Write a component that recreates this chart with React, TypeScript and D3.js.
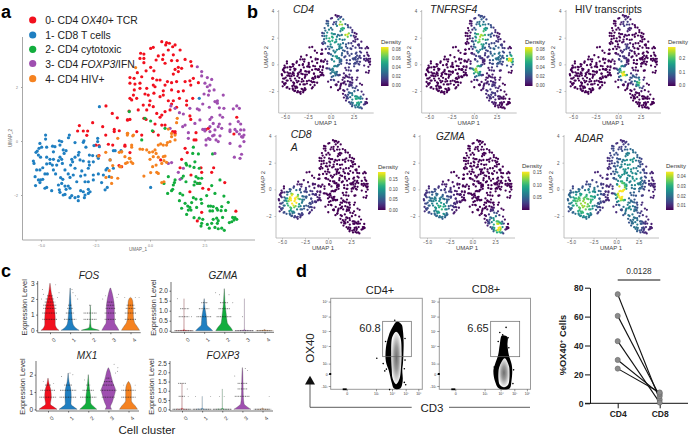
import React, { useEffect, useRef } from "react";
import * as d3 from "d3";

// UMAP coordinates, one list per cluster
const cluster0 = [[.54,3.68],[.76,3.64],[.89,3.62],[.72,3.56],[1.15,3.56],[1.04,3.49],[.15,3.47],[.03,3.43],[.84,3.37],[1.38,3.37],[-.43,3.25],[-.28,3.22],[-.46,3.06],[-.28,3.06],[-.28,2.9],[.38,3.15],[.61,3.19],[1.07,3.19],[.28,3.0],[.58,3.02],[.69,2.88],[.99,2.98],[1.61,3.02],[1.25,2.98],[1.87,2.94],[1.91,2.78],[.03,2.73],[-.18,2.6],[.18,2.6],[1.3,2.73],[1.45,2.69],[1.15,2.65],[1.3,2.57],[1.07,2.48],[-.58,2.53],[-.73,2.32],[-.92,2.35],[-.38,2.38],[-.46,2.14],[-.69,2.11],[-.92,2.14],[-.46,1.95],[-.72,1.89],[.12,2.32],[.31,2.26],[.46,2.26],[.8,2.2],[.99,2.16],[1.22,2.2],[1.61,2.2],[1.83,2.23],[1.99,2.32],[2.22,2.16],[1.87,2.07],[.15,2.07],[-.15,1.95],[.23,2.01],[.69,2.07],[.61,1.86],[.99,1.89],[1.3,1.83],[1.53,1.86],[-.23,1.74],[-.08,1.7],[.18,1.77],[.46,1.64],[.61,1.7],[-.76,1.7],[-.92,1.58],[-.61,1.58],[-.84,1.52],[0,1.49],[.84,1.49],[1.07,1.49],[1.35,1.58],[1.68,1.49],[1.96,1.58],[-.31,1.33],[-.03,1.33],[.15,1.27],[.99,1.37],[1.22,1.25],[1.68,1.33],[-.54,1.15],[-.15,1.15],[.31,1.02],[.69,1.09],[.92,1.15],[.54,.96],[.46,.88],[-.92,.8],[-1.04,.78],[-.28,.84],[-.18,.8],[.23,.63],[.54,.59],[.69,.59],[1.83,.93],[1.87,.8],[3.98,.88],[2.57,.43],[2.68,.47],[.15,.35],[1.15,.28],[1.04,.35],[-.61,.35],[-.38,.22],[.38,.22],[-1.15,-.15],[-.92,-.43],[2.11,.31],[2.02,.04],[2.11,.04],[1.61,-.27],[1.71,-.43],[1.45,-.68],[.49,-.7],[1.38,-.99],[2.34,-.99],[2.37,-1.16],[2.83,-1.16],[2.92,-.99],[1.88,-1.26],[2.26,-1.57],[2.42,-1.75],[2.69,-1.79],[3.43,-1.54],[1.83,-1.88],[2.37,-2.64],[3.94,-2.6],[2.17,-2.96],[3.85,.26],[1.15,.35],[-2.02,1.3],[-1.73,1.02],[-1.5,.86],[-.96,1.11],[-1.02,.78],[-2.63,.68],[-3.24,.57],[-3.32,.37],[-3.06,.37],[-2.86,.37],[-2.9,.21],[-2.17,.53],[-1.64,.43],[-1.64,.35],[-1.41,.38],[-2.03,.22],[-2.48,-.15],[-2.34,-.17],[-2.34,-.54],[-1.91,-.12],[-1.71,-.15],[-1.15,-.19],[-1.42,-.91],[-1.3,-.95]];
const cluster1 = [[-2.32,1.27],[-4.79,.22],[-4.79,.07],[-3.7,.22],[-3.74,.12],[-4.16,.01],[-4.05,-.02],[-3.03,.01],[-3.06,-.05],[-5.05,-.09],[-3.44,-.06],[-2.4,.1],[-2.4,-.02],[-5.09,-.27],[-4.97,-.23],[-4.74,-.23],[-4.47,-.19],[-4.36,-.21],[-4.13,-.15],[-3.98,-.33],[-3.85,-.36],[-3.94,-.46],[-2.94,-.23],[-2.57,-.17],[-2.32,-.21],[-5.17,-.37],[-5.23,-.42],[-5.12,-.52],[-4.43,-.4],[-3.26,-.42],[-3.29,-.52],[-4.74,-.6],[-5.02,-.6],[-2.78,-.52],[-2.63,-.54],[-2.42,-.56],[-2.37,-.64],[-5.35,-.74],[-5.32,-.83],[-4.59,-.68],[-4.43,-.68],[-4.13,-.6],[-4.05,-.68],[-4.2,-.73],[-3.44,-.6],[-3.59,-.68],[-3.55,-.77],[-3.21,-.7],[-3.06,-.74],[-2.8,-.77],[-2.78,-.89],[-2.6,-.77],[-4.59,-.83],[-4.74,-.85],[-4.48,-.89],[-4.92,-.99],[-5.05,-1.07],[-4.28,-.89],[-4.02,-.83],[-3.64,-.89],[-3.44,-1.01],[-2.83,-1.01],[-3.13,-1.11],[-5.2,-1.07],[-4.82,-1.22],[-4.71,-1.22],[-4.43,-1.07],[-4.33,-1.22],[-3.9,-1.07],[-3.75,-1.22],[-3.52,-1.26],[-3.18,-1.3],[-2.98,-1.26],[-2.6,-1.26],[-2.37,-1.22],[-1.96,-1.01],[-2.02,-1.07],[-5.27,-1.32],[-5.12,-1.44],[-5.02,-1.44],[-4.92,-1.42],[-5.05,-1.54],[-4.1,-1.36],[-4.0,-1.42],[-3.67,-1.35],[-3.36,-1.51],[-2.98,-1.51],[-2.83,-1.51],[-2.6,-1.44],[-5.25,-1.65],[-4.74,-1.72],[-4.82,-1.75],[-4.05,-1.57],[-4.2,-1.63],[-3.9,-1.67],[-3.75,-1.67],[-3.67,-1.75],[-3.85,-1.79],[-2.22,-1.54],[-4.51,-1.84],[-4.16,-1.81],[-4.13,-1.9],[-3.9,-1.98],[-3.18,-1.84],[-3.06,-1.88],[-2.83,-1.79],[-2.75,-1.88],[-1.96,-1.72],[-2.06,-1.81],[-3.98,-2.0],[-2.98,-2.0],[-2.83,-1.94],[-3.59,-2.02],[-3.67,-2.1],[-3.44,-2.1],[-3.29,-2.06],[-3.29,-2.21],[-3.01,-2.1],[-1.68,-.36],[-1.6,-.36],[-1.33,-.36],[-1.83,-.7],[-1.68,-1.01],[-2.14,-1.26],[-1.87,-1.32],[2.26,1.58],[.03,-1.72]];
const cluster2 = [[1.99,-.23],[1.96,-.46],[2.22,-.48],[2.87,-.48],[1.65,-.83],[1.68,-.89],[1.83,-.93],[2.06,-.77],[2.02,-.98],[2.26,-1.01],[2.11,-1.32],[2.22,-1.38],[2.37,-1.38],[1.53,-1.3],[1.45,-1.38],[1.65,-1.51],[2.06,-1.51],[2.17,-1.57],[2.29,-1.57],[2.02,-1.63],[.84,-1.32],[1.15,-1.44],[1.12,-1.54],[1.07,-1.63],[1.04,-1.79],[.99,-1.84],[.81,-1.94],[.64,-1.57],[1.38,-1.94],[1.5,-2.0],[1.35,-2.21],[1.99,-2.1],[2.11,-2.15],[2.34,-2.16],[2.6,-2.02],[2.98,-1.94],[2.83,-1.65],[3.21,-1.44],[3.39,-2.04],[3.59,-2.27],[1.91,-2.28],[2.37,-2.31],[1.61,-2.31],[1.73,-2.41],[1.83,-2.46],[1.45,-2.49],[1.76,-2.56],[1.88,-2.56],[1.68,-2.72],[2.14,-2.46],[2.68,-2.41],[2.78,-2.41],[2.9,-2.43],[2.75,-2.59],[2.87,-2.59],[3.06,-2.49],[3.29,-2.43],[3.1,-2.56],[3.26,-2.58],[3.47,-2.57],[2.02,-2.84],[2.26,-2.86],[2.42,-2.9],[2.37,-3.05],[2.34,-3.15],[2.63,-3.09],[2.83,-3.05],[2.72,-3.23],[3.06,-2.86],[3.13,-2.95],[2.9,-2.9],[3.33,-2.83],[3.09,-3.05],[2.98,-3.2],[3.13,-3.25],[3.29,-3.23],[3.41,-3.31],[3.64,-3.02],[3.75,-2.99],[3.79,-2.83],[3.9,-2.84],[3.85,-2.93],[3.98,-2.9],[-.38,.04],[-.95,1.09],[-.23,.84],[.03,.74],[.11,.38],[.69,.47]];
const cluster3 = [[2.17,2.75],[2.37,2.57],[2.37,2.41],[2.63,2.35],[2.83,2.28],[2.52,2.14],[2.75,2.07],[2.63,2.01],[2.72,1.86],[2.94,1.89],[2.48,1.74],[2.68,1.7],[3.36,1.7],[.96,1.3],[1.15,1.21],[1.35,1.05],[1.53,1.0],[1.83,1.21],[2.17,1.19],[2.26,1.15],[3.09,1.49],[2.98,1.46],[3.09,1.4],[2.42,1.37],[2.72,1.25],[3.18,1.23],[3.39,1.21],[3.98,1.3],[4.1,1.21],[3.82,1.19],[1.61,.59],[1.5,.53],[2.06,.65],[2.29,.78],[2.75,.8],[2.83,.88],[3.21,.96],[3.33,.88],[2.9,.65],[3.18,.63],[3.13,.53],[3.29,.47],[2.75,.53],[2.42,.43],[2.52,.43],[2.98,.41],[3.67,.63],[4.05,.72],[4.16,.63],[3.67,.41],[3.9,.43],[4.16,.41],[4.31,.41],[4.1,.26],[4.31,.22],[4.25,.14],[1.76,.1],[.92,.47],[3.21,.19],[2.87,.19],[2.68,.1],[1.76,.31],[2.52,.37],[2.75,.35],[2.94,.22],[3.67,.35],[3.98,.35],[4.2,.16],[4.31,-.02],[4.13,-.19],[2.57,.04],[2.75,.06],[3.03,.04],[3.13,-.02],[2.57,-.15],[3.67,-.09],[4.2,-.49],[4.13,-.64],[3.87,-.6],[2.98,-.46],[.84,-.83],[.99,-.8],[1.3,-1.16],[1.53,-1.01],[1.38,-1.42]];
const cluster4 = [[-.66,2.72],[1.25,.84],[1.22,.68],[.84,.44],[-1.04,.28],[-.79,.19],[-1.04,.22],[-.76,.22],[-1.3,-.4],[-1.38,-.95],[-1.12,-.83],[-.95,-.64],[-.87,-.77],[-.79,-.83],[-.84,-.15],[-.84,-.23],[-.46,-.3],[-.34,-.31],[-.15,-.33],[-.03,-.42],[.12,-.4],[.23,-.33],[.28,-.46],[.38,-.15],[.49,-.11],[.61,-.15],[.76,-.15],[.92,-.02],[.99,.16],[1.15,.04],[1.15,.22],[.99,.28],[.15,-.58],[.38,-.6],[.61,-.58],[.69,-.56],[.64,-.73],[0,-.68],[.28,-.89],[.12,-.95],[.03,-1.17],[-.28,-1.3],[.31,-1.16],[.38,-1.2],[.54,-1.54],[.64,-1.51],[.76,-.79],[.54,-.83],[.8,-.06],[-1.02,.28],[-1.48,.1],[-2.03,-.42],[-1.83,-.7],[-2.37,-.56],[-1.41,-.42],[-1.3,-.4],[-1.15,-.58],[-.92,-.64],[-1.04,-.8],[-1.71,-.91],[-1.87,-1.1],[-2.02,-1.35],[-1.76,-1.35],[-1.76,-1.57],[-1.48,-1.38],[-1.33,-.95]];
const clusters = [cluster0, cluster1, cluster2, cluster3, cluster4];
const clusterColors = ["#f2101e", "#1f7fc1", "#12ad3d", "#9f4fb0", "#f58220"];
const legendLabels = [["0- CD4 ", "OX40", "+ TCR"], ["1- CD8 T cells", "", ""], ["2- CD4 cytotoxic", "", ""], ["3- CD4 ", "FOXP3", "/IFN"], ["4- CD4 HIV+", "", ""]];

// density hotspots per panel: umap x, umap y, level 0-1, spread
const cd4Hot = [[1.1,3.0,.9,.32],[1.8,2.3,.9,.3],[-.2,2.0,.55,.5],[.8,1.6,.4,.6],[.5,.4,.42,.45],[.3,-.6,.38,.45],[3,-2.8,.55,.45],[2.3,-2.3,.32,.5],[2.5,.5,.22,1.1],[-.3,3,.25,.45]];
const tnfrsf4Hot = [[.7,2.1,.72,.5],[.3,-.4,.88,.38],[4,.35,1,.3],[2.5,.7,.42,.7],[1.5,2.6,.32,.6],[.6,3.3,.25,.5],[.5,1.2,.42,.45],[2,-2,.18,.7]];
const hivHot = [[.6,-.8,1,.28],[2.4,-1.4,.72,.28],[.3,-.2,.38,.35],[1.7,-1.1,.32,.35],[.9,3.0,.2,.45],[1,1.2,.18,.35],[.5,.5,.12,.5]];
const cd8aHot = [[-3.7,-.7,.95,.42],[-4.2,-1.2,.5,.6],[-2.8,-1,.28,.8],[-1.7,-.5,.1,.7]];
const gzmaHot = [[2.9,-2.9,1,.35],[2.4,-2.3,.5,.45],[-4.2,-1,.42,.8],[-3.3,-1.6,.42,.5],[-2.5,-.7,.16,.8]];
const adarHot = [[.6,0,.95,.38],[.5,-.6,.7,.35],[-3.5,-1.2,.72,.75],[-4.7,-.8,.35,.6],[-2.4,-.3,.3,.6],[1.6,2.3,.42,.7],[.5,1.2,.35,.6],[2.2,.6,.4,.7],[1.5,-1.5,.38,.6],[2.3,-2.7,.3,.5],[-.3,2.8,.15,.45],[0,0,.1,9]];

// violin outlines per gene and cluster: [expression, relative half width]
const thinViolin = (top) => [[0,.95],[.03,.1],[.08,.015],[top,.01]];
const fosViolins = [
  [[0,.95],[.1,.75],[.4,.55],[.8,.55],[1.2,.5],[1.6,.42],[2,.28],[2.4,.14],[2.8,.05],[3,.01]],
  [[0,.95],[.15,.6],[.4,.3],[.7,.22],[1.1,.17],[1.5,.12],[2,.07],[2.7,.01]],
  [[0,.95],[.08,.5],[.2,.1],[.7,.03],[1.1,.03],[1.6,.01]],
  [[0,.9],[.2,.72],[.5,.45],[1,.42],[1.5,.42],[2,.32],[2.4,.18],[2.7,.03]],
  [[0,.95],[.2,.75],[.5,.42],[.9,.3],[1.4,.28],[1.8,.25],[2.05,.12],[2.1,.01]],
];
const gzmaViolins = [
  thinViolin(1.6),
  [[0,.9],[.1,.7],[.3,.3],[.7,.24],[1.1,.1],[1.6,.01]],
  [[0,.9],[.15,.7],[.4,.32],[.8,.22],[1.3,.1],[1.8,.04],[2.1,.01]],
  thinViolin(1.6),
  thinViolin(.02),
];
const mx1Violins = [
  [[0,.95],[.1,.7],[.3,.25],[.7,.35],[1.1,.3],[1.5,.1],[1.8,.01]],
  [[0,.95],[.1,.7],[.3,.3],[.7,.33],[1.1,.3],[1.6,.1],[2.1,.01]],
  [[0,.9],[.15,.6],[.4,.25],[.7,.25],[1.1,.15],[1.6,.06],[2,.01]],
  [[0,.35],[.15,.22],[.4,.4],[.8,.62],[1.1,.75],[1.5,.5],[1.9,.3],[2.3,.1],[2.4,.01]],
  [[0,.95],[.2,.7],[.5,.3],[.8,.3],[1.1,.3],[1.4,.22],[1.6,.02]],
];
const foxp3Violins = [
  thinViolin(1.4),
  thinViolin(.7),
  thinViolin(1.1),
  [[0,.9],[.1,.6],[.3,.18],[.7,.1],[1.4,.07],[2,.04],[2.25,.01]],
  thinViolin(.02),
];

// rows of jittered cells at the discrete expression values: cluster, value, half width
const fosRows = [[0,.7,.8],[0,1.1,.8],[0,1.4,.7],[0,1.6,.7],[0,1.8,.55],[0,2,.45],[0,2.2,.3],[1,.7,.65],[1,1.1,.45],[1,1.4,.3],[1,1.6,.2],[2,.7,.7],[2,1.1,.7],[2,1.6,.1],[3,.7,.6],[3,1.1,.6],[3,1.4,.5],[3,1.6,.4],[3,1.8,.3],[4,.7,.6],[4,1.1,.6],[4,1.4,.5],[4,1.6,.4]];
const gzmaRows = [[0,0,1],[0,.7,.55],[0,1.1,.4],[1,.7,.8],[1,1.1,.55],[1,1.4,.3],[2,.7,.8],[2,1.1,.6],[2,1.4,.45],[3,0,1],[4,0,.8]];
const mx1Rows = [[0,.7,.9],[0,1.1,.8],[0,1.4,.3],[1,.7,.9],[1,1.1,.85],[1,1.4,.4],[2,.7,.85],[2,1.1,.6],[2,1.4,.2],[3,.7,.7],[3,1.1,.85],[3,1.4,.6],[3,1.6,.45],[3,1.8,.2],[4,.7,.75],[4,1.1,.75]];
const foxp3Rows = [[0,0,1],[0,.7,.35],[0,1.4,.4],[1,0,1],[2,0,1],[3,.7,.8],[3,1.1,.5],[3,1.4,.5],[4,0,.8]];
// single cells outside the rows: cluster, sideways offset, value
const fosStray = [[0,-.8,2.6],[0,-.7,2.3],[0,.6,2.9],[0,.95,2.4],[0,.8,2.1],[0,-.9,2],[1,.3,2.4],[1,.55,2.2],[1,.8,2],[1,.2,2.6],[3,-.5,2.2],[3,.7,2.1],[3,.85,2.3],[3,-.8,2],[4,.9,2.1],[4,-.6,2.1],[4,.5,2.1]];
const gzmaStray = [[0,-.7,1.6],[0,.5,1.1],[0,.8,.7],[2,-.9,1.9],[2,-.5,1.8],[2,.5,1.8],[2,.9,1.4],[1,.3,1.4],[3,-.2,.7]];
const mx1Stray = [[0,-.5,1.6],[0,.6,1.5],[1,-.7,1.9],[1,.5,2],[1,.2,2.1],[2,-.4,1.7],[3,.75,2.1],[3,.95,2.2],[3,1,2.4],[3,.6,2.6],[4,.7,1.4],[4,-.5,1.4]];
const foxp3Stray = [[0,.55,1.1],[0,.65,.7],[1,.9,.7],[1,-.7,.7],[2,-.3,.7],[2,.2,.7],[3,-.8,1.8],[3,.3,2.2],[3,.55,2.1],[4,.7,.7]];

const clusterTicks = ["0", "1", "2", "3", "4"];

// flow cytometry contours in log decades (0 = zero line, -1 = -10^3)
const flowYTicks = [7, 6, 5, 4, 3, 0, -1];
const flowXTicks = [0, 3, 4, 5, 6];
const flowYLabels = ["10\u2077", "10\u2076", "10\u2075", "10\u2074", "10\u00b3", "0", "-10\u00b3"];
const flowXLabels = ["0", "10\u00b3", "10\u2074", "10\u2075", "10\u2076"];
const cd4Outer = [[4.35,5.65],[4.7,5.45],[4.8,5.0],[4.85,4.2],[4.83,3.5],[4.8,3.0],[4.75,1.2],[4.78,-.6],[4.6,-1.2],[4.15,-1.2],[3.98,-.7],[3.8,1],[3.62,3.1],[3.62,3.9],[3.8,4.7],[4.0,5.2]];
const cd4Inner = [[4.3,4.95],[4.6,4.6],[4.7,3.6],[4.65,1.5],[4.55,-.4],[4.3,-.85],[4.05,-.4],[3.98,1.5],[3.95,3.6],[4.02,4.6]];
const cd4Events = [[4.2,5.75],[4.0,5.0],[3.6,4.3],[3.45,3.0],[3.05,3.3],[4.95,4.5],[4.95,3.2],[4.9,1.5],[3.55,.9],[3.65,1.4],[5.0,-.9],[3.85,-1.3],[4.9,-.7]];
const cd8Outer = [[4.1,4.7],[4.5,4.6],[4.5,4.1],[4.6,3.5],[4.8,2.9],[4.85,1.2],[4.8,-.5],[4.65,-1.2],[3.9,-1.2],[3.65,-.6],[3.55,1],[3.65,2.8],[3.85,3.5],[3.95,4.1]];
const cd8Inner = [[4.3,3.3],[4.6,2.4],[4.65,.8],[4.55,-.9],[4.25,-1.1],[3.95,-.9],[3.87,.8],[3.95,2.4]];
const cd8Events = [[4.4,5.25],[4.15,4.75],[4.55,4.55],[3.85,4.3],[3.95,4.9],[4.6,3.9],[3.6,2.0],[4.95,1.2],[4.9,-.8]];

// paired %OX40+ cells
const pairCategories = ["CD4", "CD8"];
const pairCD4 = [75.5, 60.5, 43, 30, 24];
const pairCD8 = [2.5, 5, .5, 6.5, 7.5];
const pairTicks = [0, 20, 40, 60, 80];

const SANS = "'Liberation Sans', Arial, sans-serif";

function text(g, x, y, str, size, opts: any = {}) {
  const t = g.append("text").attr("x", x).attr("y", y).attr("font-size", size)
    .attr("font-family", SANS).attr("fill", opts.fill || "#111").text(str);
  if (opts.anchor) t.attr("text-anchor", opts.anchor);
  if (opts.italic) t.attr("font-style", "italic");
  if (opts.bold) t.attr("font-weight", "bold");
  if (opts.rotate != null) t.attr("transform", `rotate(${opts.rotate},${x},${y})`);
  return t;
}

function styleAxis(g, color, width, size, fill) {
  g.selectAll("path,line").attr("stroke", color).attr("stroke-width", width);
  g.selectAll("text").attr("font-size", size).attr("font-family", SANS).attr("fill", fill);
}

function drawPanelA(svg) {
  const x = d3.scaleLinear().domain([-5, 2.5]).range([41, 204.5]);
  const y = d3.scaleLinear().domain([-2, 2]).range([195, 87]);
  const axisColor = "#a8a8a8";
  const left = svg.append("g").attr("transform", "translate(22.5,0)");
  left.call(d3.axisLeft(y).tickValues([-2, 0, 2]).tickSize(1.5).tickFormat(d3.format("d")));
  left.select(".domain").attr("d", "M0,37V240");
  styleAxis(left, axisColor, 1, 3.5, "#777");
  const bottom = svg.append("g").attr("transform", "translate(0,240)");
  bottom.call(d3.axisBottom(x).tickValues([-5, -2.5, 0, 2.5]).tickSize(1.5).tickFormat(d3.format(".1f")));
  bottom.select(".domain").attr("d", "M22.5,0H255");
  styleAxis(bottom, axisColor, 1, 3.5, "#777");
  text(svg, 12, 138, "UMAP_2", 4.5, { anchor: "middle", rotate: -90, fill: "#666" });
  text(svg, 138, 251, "UMAP_1", 4.5, { anchor: "middle", fill: "#666" });

  clusters.forEach((pts, i) => {
    svg.append("g").selectAll("circle").data(pts).join("circle")
      .attr("cx", (d) => x(d[0])).attr("cy", (d) => y(d[1])).attr("r", 1.6)
      .attr("fill", clusterColors[i]);
  });

  const rowY = [20, 35, 49.3, 63.5, 78.7];
  legendLabels.forEach((parts, i) => {
    svg.append("circle").attr("cx", 32.7).attr("cy", rowY[i]).attr("r", 3.6).attr("fill", clusterColors[i]);
    const t = text(svg, 45.3, rowY[i] + 4, parts[0], 10.4, { fill: "#222" });
    if (parts[1]) {
      t.append("tspan").attr("font-style", "italic").text(parts[1]);
      t.append("tspan").text(parts[2]);
    }
  });
}

// all cells in one list with the hotspot level worked out per cell
function densityAt(p, hot) {
  const v = d3.sum(hot, (h) => h[2] * Math.exp(-((p[0] - h[0]) ** 2 + (p[1] - h[1]) ** 2) / (2 * h[3] * h[3])));
  return Math.min(1, v);
}

function drawUmapPanel(svg, cfg, gradId) {
  const allCells = clusters.flat();
  const x = d3.scaleLinear().domain([-5, 2.5]).range([cfg.x0, cfg.x1]);
  const y = d3.scaleLinear().domain([-2, 4]).range([cfg.yBottom, cfg.yTop]);
  const left = svg.append("g").attr("transform", `translate(${cfg.axisX},0)`);
  left.call(d3.axisLeft(y).tickValues([-2, 0, 2, 4]).tickSize(1.5).tickFormat(d3.format("d")));
  left.select(".domain").attr("d", `M0,${cfg.yTop - 1}V${cfg.base}`);
  styleAxis(left, "#b0b0b0", .8, 4.5, "#555");
  const bottom = svg.append("g").attr("transform", `translate(0,${cfg.base})`);
  bottom.call(d3.axisBottom(x).tickValues([-5, -2.5, 0, 2.5]).tickSize(1.5).tickPadding(1.5).tickFormat(d3.format(".1f")));
  bottom.select(".domain").attr("d", `M${cfg.axisX},0H${cfg.axisX + 95}`);
  styleAxis(bottom, "#b0b0b0", .8, 4.5, "#555");
  text(svg, cfg.axisX - 10.7, (cfg.yTop + cfg.base) / 2 - 5, "UMAP 2", 6, { anchor: "middle", rotate: -90, fill: "#444" });
  text(svg, cfg.axisX + 47, cfg.base + 12, "UMAP 1", 6, { anchor: "middle", fill: "#444" });

  const cells = allCells.map((p) => ({ p, v: densityAt(p, cfg.hot) })).sort((a, b) => a.v - b.v);
  svg.append("g").selectAll("circle").data(cells).join("circle")
    .attr("cx", (d) => x(d.p[0])).attr("cy", (d) => y(d.p[1])).attr("r", 1.15)
    .attr("fill", (d) => d3.interpolateViridis(d.v));

  svg.append("rect").attr("x", cfg.barX).attr("y", cfg.barTop).attr("width", 7.5)
    .attr("height", cfg.barBottom - cfg.barTop).attr("fill", `url(#${gradId})`);
  text(svg, cfg.barX, cfg.barTop - 3.5, "Density", 6, { fill: "#333" });
  const lz = d3.scaleLinear().domain(cfg.legendDomain).range([cfg.barBottom, cfg.barTop]);
  cfg.legendTicks.forEach((v) => {
    text(svg, cfg.barX + 11, lz(v) + 1.6, d3.format(cfg.legendFormat)(v), 4.5, { fill: "#444" });
  });

  const title = cfg.title;
  text(svg, title.x, title.y, title.str, title.size, { italic: title.italic, fill: "#222" });
  if (title.extra) text(svg, title.x, title.y + 13, title.extra, title.size, { italic: true, fill: "#222" });
}

function drawViolinPanel(svg, cfg) {
  const x = d3.scaleLinear().domain([0, 4]).range([cfg.x0, cfg.x0 + 80.5]);
  const y = d3.scaleLinear().domain(cfg.yDomain).range(cfg.yRange);
  const half = 9.5;
  const left = svg.append("g").attr("transform", `translate(${cfg.axisX},0)`);
  left.call(d3.axisLeft(y).tickValues(cfg.yTicks).tickSize(1.5).tickPadding(1.5).tickFormat(d3.format(cfg.yFormat)));
  left.select(".domain").attr("d", `M0,${cfg.top}V${cfg.base}`);
  styleAxis(left, "#333", .7, 6.5, "#333");
  const bottom = svg.append("g").attr("transform", `translate(0,${cfg.base})`);
  bottom.call(d3.axisBottom(x).tickValues([0, 1, 2, 3, 4]).tickSize(1.5).tickFormat((d, i) => clusterTicks[i]));
  bottom.select(".domain").attr("d", `M${cfg.axisX},0H${cfg.axisX + 103}`);
  styleAxis(bottom, "#333", .7, 5.5, "#333");
  bottom.selectAll("text").attr("transform", "rotate(-45) translate(-3,1)").attr("text-anchor", "middle");

  const area = d3.area().curve(d3.curveMonotoneY)
    .x0((d) => -d[1] * half).x1((d) => d[1] * half).y((d) => y(d[0]));
  cfg.violins.forEach((shape, i) => {
    svg.append("path").attr("transform", `translate(${x(i)},0)`).attr("d", area(shape))
      .attr("fill", clusterColors[i]).attr("stroke", shape.length < 5 ? "#999" : "#444").attr("stroke-width", .3);
  });
  svg.append("g").selectAll("line").data(cfg.rows).join("line")
    .attr("x1", (d) => x(d[0]) - d[2] * half).attr("x2", (d) => x(d[0]) + d[2] * half)
    .attr("y1", (d) => y(d[1])).attr("y2", (d) => y(d[1]))
    .attr("stroke", "#111").attr("stroke-width", .6).attr("stroke-dasharray", "1 .7");
  svg.append("g").selectAll("circle").data(cfg.stray).join("circle")
    .attr("cx", (d) => x(d[0]) + d[1] * half).attr("cy", (d) => y(d[2])).attr("r", .45).attr("fill", "#555");

  text(svg, cfg.titleX, cfg.titleY, cfg.title, 10, { anchor: "middle", italic: true, fill: "#222" });
  text(svg, cfg.yTitleX, (cfg.top + cfg.base) / 2 + 0.5, "Expression Level", 7.4, { anchor: "middle", rotate: -90, fill: "#333" });
}

function drawFlow(svg, cfg) {
  const x = d3.scaleLinear().domain([0, 3, 4, 5, 6]).range([16, 45.3, 61.3, 75, 87.6].map((d) => d + cfg.left));
  const y = d3.scaleLinear().domain([7, 6, 5, 4, 3, 0, -1]).range([3.3, 18.3, 32.7, 47.7, 65.3, 75.7, 87.7].map((d) => d + 298.3));
  svg.append("rect").attr("x", cfg.left).attr("y", 298.3).attr("width", cfg.width).attr("height", 91)
    .attr("fill", "#fff").attr("stroke", "#9a9a9a").attr("stroke-width", 1);

  const left = svg.append("g").attr("transform", `translate(${cfg.left},0)`);
  left.call(d3.axisLeft(y).tickValues(flowYTicks).tickSize(2).tickPadding(1).tickFormat((d, i) => flowYLabels[i]));
  left.select(".domain").remove();
  styleAxis(left, "#333", .5, 3.5, "#333");
  const bottom = svg.append("g").attr("transform", "translate(0,389.3)");
  bottom.call(d3.axisBottom(x).tickValues(flowXTicks).tickSize(2).tickPadding(1).tickFormat((d, i) => flowXLabels[i]));
  bottom.select(".domain").remove();
  styleAxis(bottom, "#333", .5, 3.5, "#333");

  const contour = d3.line().curve(d3.curveCatmullRomClosed.alpha(.5)).x((d) => x(d[0])).y((d) => y(d[1]));
  svg.append("path").attr("d", contour(cfg.outer)).attr("fill", "#000");
  svg.append("path").attr("d", contour(cfg.inner)).attr("fill", "url(#flowGray)");
  svg.append("g").selectAll("circle").data(cfg.events).join("circle")
    .attr("cx", (d) => x(d[0])).attr("cy", (d) => y(d[1])).attr("r", .8).attr("fill", "#000");
  svg.append("rect").attr("x", cfg.left - 1.5).attr("y", y(0) - 1).attr("width", 2).attr("height", 2).attr("fill", "#000");
  svg.append("rect").attr("x", x(0) - 4).attr("y", 388.4).attr("width", 4).attr("height", 1.8).attr("fill", "#000");

  svg.append("rect").attr("x", cfg.gateX).attr("y", 321.3).attr("width", cfg.gateW).attr("height", 35.4)
    .attr("fill", "none").attr("stroke", "#666").attr("stroke-width", .7);
  text(svg, cfg.gateX - 2, 331.7, cfg.pct, 11, { anchor: "end", fill: "#222" });
  text(svg, cfg.titleX, cfg.titleY, cfg.title, 11, { anchor: "middle", fill: "#222" });
}

function drawPairs(svg) {
  const x = d3.scalePoint().domain(pairCategories).range([617.7, 659.7]);
  const y = d3.scaleLinear().domain([0, 80]).range([403.3, 287.7]);
  const left = svg.append("g").attr("transform", "translate(590,0)");
  left.call(d3.axisLeft(y).tickValues(pairTicks).tickSize(5).tickPadding(1.5).tickSizeOuter(0));
  styleAxis(left, "#111", 1, 8.5, "#222");
  left.selectAll("text").attr("font-weight", "bold");
  const bottom = svg.append("g").attr("transform", "translate(0,403.3)");
  bottom.call(d3.axisBottom(x).tickSize(5).tickPadding(3));
  bottom.select(".domain").attr("d", "M585,0H688");
  styleAxis(bottom, "#111", 1, 8.5, "#222");
  bottom.selectAll("text").attr("font-weight", "bold");

  pairCD4.forEach((v, i) => {
    svg.append("line").attr("x1", x("CD4")).attr("y1", y(v)).attr("x2", x("CD8")).attr("y2", y(pairCD8[i]))
      .attr("stroke", "#111").attr("stroke-width", 1.1);
  });
  [[ "CD4", pairCD4 ], [ "CD8", pairCD8 ]].forEach(([cat, vals]: any) => {
    svg.append("g").selectAll("circle").data(vals).join("circle")
      .attr("cx", x(cat)).attr("cy", (d) => y(d)).attr("r", 2.6)
      .attr("fill", "#8c8c8c").attr("stroke", "#5c5c5c").attr("stroke-width", .5);
  });

  const yTitle = text(svg, 566, 345, "%OX40", 9.3, { anchor: "middle", rotate: -90, bold: true, fill: "#222" });
  yTitle.append("tspan").attr("dy", -3).attr("font-size", 6).text("+");
  yTitle.append("tspan").attr("dy", 3).text(" Cells");
  svg.append("line").attr("x1", 617.7).attr("x2", 660.3).attr("y1", 280).attr("y2", 280).attr("stroke", "#111").attr("stroke-width", 1.1);
  text(svg, 639, 274, "0.0128", 8.3, { anchor: "middle", fill: "#333" });
}

function drawChart(el) {
  const svg = d3.select(el);
  svg.selectAll("*").remove();
  const defs = svg.append("defs");
  const grad = defs.append("linearGradient").attr("id", "viridisBar").attr("x1", 0).attr("x2", 0).attr("y1", 1).attr("y2", 0);
  d3.quantize(d3.interpolateViridis, 12).forEach((c, i) => {
    grad.append("stop").attr("offset", i / 11).attr("stop-color", c);
  });
  const gray = defs.append("radialGradient").attr("id", "flowGray");
  [[0, "#6f6f6f"], [.45, "#9a9a9a"], [.8, "#d4d4d4"], [1, "#f6f6f6"]].forEach(([o, c]) => {
    gray.append("stop").attr("offset", o).attr("stop-color", c);
  });

  drawPanelA(svg);

  const umapPanels = [
    { hot: cd4Hot, axisX: 278.7, x0: 285, x1: 353.5, yTop: 11, yBottom: 91, base: 113, barX: 381, barTop: 47, barBottom: 86, legendDomain: [-.002, .0864], legendTicks: [0, .02, .04, .06, .08], legendFormat: ".2f", title: { x: 293, y: 13, str: "CD4", size: 10.5, italic: true } },
    { hot: tnfrsf4Hot, axisX: 421.7, x0: 429, x1: 496.5, yTop: 11, yBottom: 91, base: 113, barX: 525, barTop: 47, barBottom: 86, legendDomain: [-.002, .0864], legendTicks: [0, .02, .04, .06, .08], legendFormat: ".2f", title: { x: 430, y: 13, str: "TNFRSF4", size: 10.5, italic: true } },
    { hot: hivHot, axisX: 566, x0: 573, x1: 640.5, yTop: 11, yBottom: 91, base: 113, barX: 668, barTop: 47, barBottom: 86, legendDomain: [-.005, .29], legendTicks: [0, .1, .2], legendFormat: ".1f", title: { x: 575, y: 13, str: "HIV transcripts", size: 10.2, italic: false } },
    { hot: cd8aHot, axisX: 276, x0: 282, x1: 351, yTop: 136, yBottom: 216, base: 238, barX: 378, barTop: 172, barBottom: 210, legendDomain: [0, .184], legendTicks: [0, .05, .1, .15], legendFormat: ".2f", title: { x: 290.7, y: 138, str: "CD8", extra: "A", size: 10.5, italic: true } },
    { hot: gzmaHot, axisX: 420, x0: 427, x1: 495, yTop: 136, yBottom: 216, base: 238, barX: 522, barTop: 171.7, barBottom: 210, legendDomain: [.002, .152], legendTicks: [.05, .1, .15], legendFormat: ".2f", title: { x: 436, y: 140, str: "GZMA", size: 10, italic: true } },
    { hot: adarHot, axisX: 564, x0: 571, x1: 638.5, yTop: 136, yBottom: 216, base: 238, barX: 666, barTop: 171.7, barBottom: 210, legendDomain: [.0056, .0452], legendTicks: [.01, .02, .03, .04], legendFormat: ".2f", title: { x: 575, y: 142, str: "ADAR", size: 10.2, italic: true } },
  ];
  umapPanels.forEach((p) => drawUmapPanel(svg, p, "viridisBar"));

  const violinPanels = [
    { violins: fosViolins, rows: fosRows, stray: fosStray, axisX: 37.7, yTitleX: 27, x0: 50, yDomain: [0, 3], yRange: [330.3, 283.3], yTicks: [0, 1, 2, 3], yFormat: "d", top: 281, base: 332.7, title: "FOS", titleX: 89, titleY: 279 },
    { violins: gzmaViolins, rows: gzmaRows, stray: gzmaStray, axisX: 171, yTitleX: 156, x0: 184, yDomain: [0, 2], yRange: [330.7, 290.7], yTicks: [0, .5, 1, 1.5, 2], yFormat: ".1f", top: 282, base: 332.3, title: "GZMA", titleX: 223, titleY: 279 },
    { violins: mx1Violins, rows: mx1Rows, stray: mx1Stray, axisX: 36, yTitleX: 25, x0: 48, yDomain: [0, 2], yRange: [409.3, 374.7], yTicks: [0, 1, 2], yFormat: "d", top: 361, base: 411, title: "MX1", titleX: 87, titleY: 359 },
    { violins: foxp3Violins, rows: foxp3Rows, stray: foxp3Stray, axisX: 170, yTitleX: 153.5, x0: 182, yDomain: [0, 2.5], yRange: [409.3, 363], yTicks: [0, .5, 1, 1.5, 2, 2.5], yFormat: ".1f", top: 361, base: 411, title: "FOXP3", titleX: 223, titleY: 359 },
  ];
  violinPanels.forEach((p) => drawViolinPanel(svg, p));
  text(svg, 147, 434, "Cell cluster", 11.5, { anchor: "middle", fill: "#222" });

  drawFlow(svg, { left: 330.7, width: 91.6, outer: cd4Outer, inner: cd4Inner, events: cd4Events, gateX: 382.7, gateW: 28.6, pct: "60.8", title: "CD4+", titleX: 380, titleY: 293.5 });
  drawFlow(svg, { left: 439.3, width: 91.2, outer: cd8Outer, inner: cd8Inner, events: cd8Events, gateX: 490.7, gateW: 29, pct: "6.65", title: "CD8+", titleX: 486, titleY: 292.5 });
  text(svg, 314, 348, "OX40", 11.5, { anchor: "middle", rotate: -90, fill: "#222" });
  svg.append("path").attr("d", "M310,384V407.3H411.7M449,407.3H530").attr("fill", "none").attr("stroke", "#333").attr("stroke-width", .8);
  svg.append("path").attr("d", "M305,384.5L310,375.7L315,384.5Z").attr("fill", "#111");
  text(svg, 432, 412, "CD3", 11.5, { anchor: "middle", fill: "#222" });

  drawPairs(svg);

  [["a", 1, 18], ["b", 247, 17.5], ["c", 1, 277], ["d", 296, 276.7]].forEach(([s, px, py]: any) => {
    text(svg, px, py, s, 18, { bold: true, fill: "#000" });
  });
}

export default function App() {
  const ref = useRef(null);
  useEffect(() => {
    drawChart(ref.current);
  }, []);
  return (
    <svg ref={ref} width={689} height={438} viewBox="0 0 689 438"
      style={{ position: "absolute", left: 0, top: 0, background: "#fff" }} />
  );
}
